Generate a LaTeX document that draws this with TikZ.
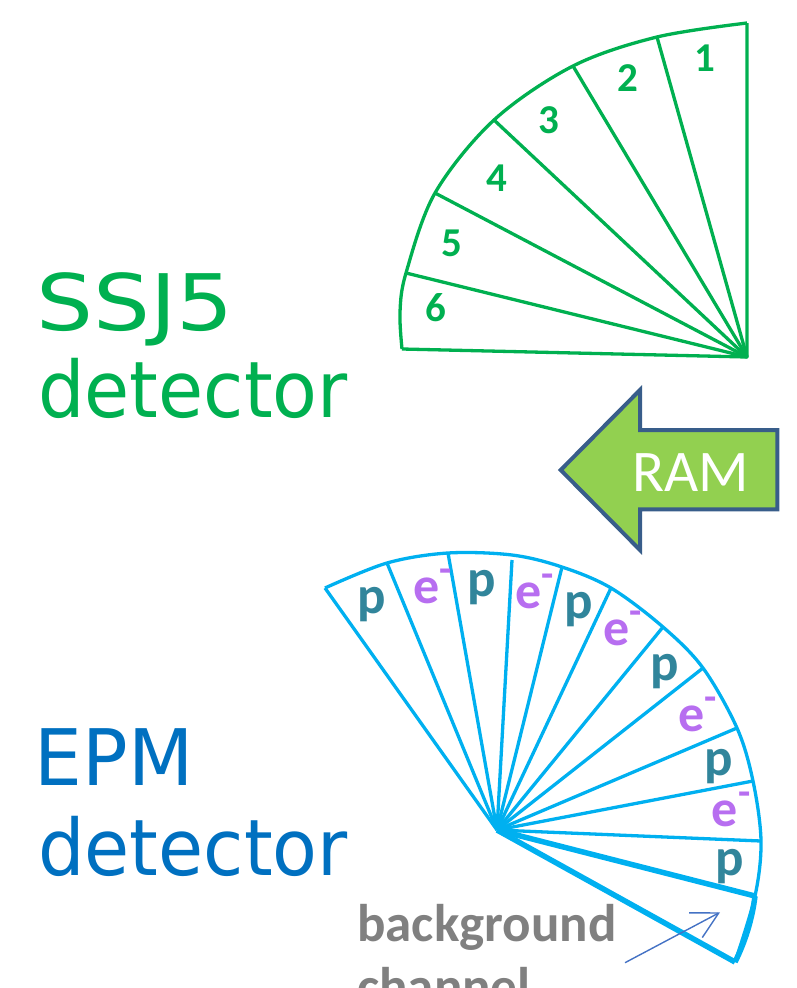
\documentclass[tikz,border=0pt]{standalone}
\usepackage{fontspec}
\setmainfont{Carlito}
\newfontfamily\comicfont{DejaVu Sans}
\usetikzlibrary{arrows.meta}
\definecolor{ssjgreen}{RGB}{0,176,80}
\definecolor{epmblue}{RGB}{0,112,192}
\definecolor{fancyan}{RGB}{0,176,240}
\definecolor{pteal}{RGB}{49,133,155}
\definecolor{epurple}{RGB}{183,110,240}
\definecolor{ramgreen}{RGB}{146,208,80}
\definecolor{ramborder}{RGB}{56,93,138}
\definecolor{bggray}{RGB}{128,128,128}
\definecolor{arrowblue}{RGB}{68,114,196}
\newcommand{\emin}{e\rlap{\raisebox{0.40em}{\fontsize{40}{40}\selectfont -}}}
\begin{document}
\begin{tikzpicture}[x=1pt,y=-1pt,
  ssjline/.style={draw=ssjgreen,line width=3.3pt,line join=round},
  epmline/.style={draw=fancyan,line width=3.3pt,line join=round},
  epmthick/.style={draw=fancyan,line width=5.5pt,line join=round},
  title/.style={inner sep=0pt,anchor=base west,font=\comicfont\fontsize{78}{80}\selectfont},
  digit/.style={inner sep=0pt,anchor=base,text=ssjgreen,font=\bfseries\fontsize{41}{44}\selectfont},
  plabel/.style={inner sep=0pt,anchor=base,text=pteal,font=\bfseries\fontsize{53}{56}\selectfont},
  elabel/.style={inner sep=0pt,anchor=base,text=epurple,font=\bfseries\fontsize{52}{56}\selectfont},
  bgtext/.style={inner sep=0pt,anchor=base west,text=bggray,font=\bfseries\fontsize{53}{56}\selectfont},
  ramarrow/.style={fill=ramgreen,draw=ramborder,line width=4pt,line join=miter},
  bgarrow/.style={draw=arrowblue,line width=1.4pt,-{Straight Barb[length=26pt,width=28pt]}}
]
\useasboundingbox (0,0) rectangle (796,988);
\clip (0,0) rectangle (796,988);

% ---------- SSJ5 fan ----------
\coordinate (ta) at (747,357);
\coordinate (t0) at (747,23);
\coordinate (t1) at (657,37);
\coordinate (t2) at (573,66);
\coordinate (t3) at (494,120);
\coordinate (t4) at (435,193);
\coordinate (t5) at (406,273);
\coordinate (t6) at (402,349);
\draw[ssjline] plot[smooth,tension=0.55] coordinates {(747,23) (657,37) (573,66) (494,120) (435,193) (406,273) (400,312) (402,349)};
\draw[ssjline] (t0) -- (ta) -- (t6);
\foreach \i in {1,...,5} \draw[ssjline] (ta) -- (t\i);

\node[digit] (d1) at (705,71.7) {1};
\node[digit] (d2) at (627.7,91.7) {2};
\node[digit] (d3) at (549.3,133.3) {3};
\node[digit] (d4) at (496.7,191.7) {4};
\node[digit] (d5) at (452.3,256.7) {5};
\node[digit] (d6) at (435.7,321.7) {6};

% ---------- titles ----------
\node[title,text=ssjgreen] (ssjA) at (36,330) {\scalebox{1.15}[1]{SSJ5}};
\node[title,text=ssjgreen] (ssjB) at (38,417) {\scalebox{0.94}[1]{detector}};
\node[title,text=epmblue] (epmA) at (34.5,785) {\scalebox{0.97}[1]{EPM}};
\node[title,text=epmblue] (epmB) at (38,875) {\scalebox{0.94}[1]{detector}};

% ---------- RAM arrow ----------
\draw[ramarrow] (560.7,470) -- (640,390) -- (640,430) -- (777.3,430) -- (777.3,509.3) -- (640,509.3) -- (640,550) -- cycle;
\node[inner sep=0pt,anchor=base,text=white,font=\fontsize{59}{62}\selectfont] (ram) at (690.8,491.7) {RAM};

% ---------- EPM fan ----------
\coordinate (ba) at (497,830);
\coordinate (b1) at (325,588);
\coordinate (b2) at (387,563);
\coordinate (b3) at (448,553);
\coordinate (b4) at (512,560);
\coordinate (b5) at (562,567);
\coordinate (b6) at (611,588);
\coordinate (b7) at (663,627);
\coordinate (b8) at (703,668);
\coordinate (b9) at (737,728);
\coordinate (b10) at (753,781);
\coordinate (b11) at (761,841);
\coordinate (b12) at (755,896);
\coordinate (b13) at (735,962);
\draw[epmline] plot[smooth,tension=0.55] coordinates {(325,588) (387,563) (448,553) (512,555) (562,567) (611,588) (663,627) (703,668) (737,728) (753,781) (761,841) (755,896) (735,962)};
\draw[epmthick] (b12) .. controls (752,920) and (745,942) .. (b13);
\foreach \i in {1,...,11} \draw[epmline] (ba) -- (b\i);
\draw[epmthick] (ba) -- (b12);
\draw[epmthick] (ba) -- (b13);

\node[plabel] (p1) at (371.7,613.3) {p};
\node[elabel] (e1) at (426.7,603.3) {\emin};
\node[plabel] (p2) at (481.7,596.7) {p};
\node[elabel] (e2) at (528.3,608.3) {\emin};
\node[plabel] (p3) at (578.3,618.3) {p};
\node[elabel] (e3) at (616.7,645) {\emin};
\node[plabel] (p4) at (665,680) {p};
\node[elabel] (e4) at (691.7,731.7) {\emin};
\node[plabel] (p5) at (718.3,775) {p};
\node[elabel] (e5) at (725,826.7) {\emin};
\node[plabel] (p6) at (730,875) {p};

% ---------- background channel ----------
\node[bgtext] (bg1) at (357,941.7) {background};
\node[bgtext] (bg2) at (357,1004.7) {channel};
\coordinate (bgtail) at (625,962.7);
\coordinate (bgtip) at (720,912.3);
\draw[bgarrow] (bgtail) -- (bgtip);
\end{tikzpicture}
\end{document}
